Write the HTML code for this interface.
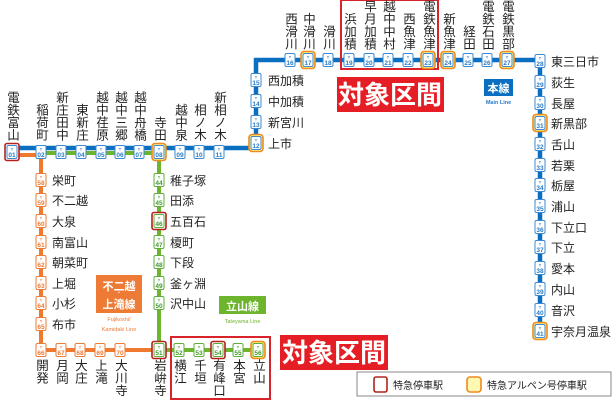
<!DOCTYPE html>
<html><head><meta charset="utf-8"><style>
html,body{margin:0;padding:0;background:#fff;}
svg{display:block;font-family:"Liberation Sans","Noto Sans CJK JP",sans-serif;}
.v{writing-mode:vertical-rl;font-size:12.5px;fill:#222;}
.h{font-size:12px;fill:#222;}
.t{font-size:4px;text-anchor:middle;font-weight:bold}
.n{font-size:6.5px;text-anchor:middle;font-weight:bold}
</style></head><body>
<svg width="614" height="400" viewBox="0 0 614 400">
<defs>
<g id="bb"><rect x="-5" y="-6.5" width="10" height="13" rx="1.5" fill="#fff" stroke="#3c8ad2" stroke-width="1"/></g>
<g id="ob"><rect x="-5" y="-6.5" width="10" height="13" rx="1.5" fill="#fff" stroke="#ee7b35" stroke-width="1"/></g>
<g id="gb"><rect x="-5" y="-6.5" width="10" height="13" rx="1.5" fill="#fff" stroke="#5fae3a" stroke-width="1"/></g>
<g id="rs"><rect x="-7" y="-8.5" width="14" height="17" rx="2" fill="#fff" stroke="#b3221c" stroke-width="1.6"/></g>
<g id="ys"><rect x="-7" y="-8.5" width="14" height="17" rx="3" fill="#fff48a" stroke="#ef8a1f" stroke-width="1.6"/></g>
</defs>
<!-- lines -->
<path d="M12 155 H41 V350 H159" stroke="#ef7a2f" stroke-width="4" fill="none"/>
<path d="M41 153 H159 V350 H258" stroke="#6cb52d" stroke-width="4" fill="none"/>
<path d="M12 148 H256 V60 H540 V331" stroke="#0a6fc0" stroke-width="4.5" fill="none"/>
<path d="M159 148 V152" stroke="#0a6fc0" stroke-width="0"/>

<!-- red boxes -->
<rect x="341" y="0" width="97" height="69" fill="none" stroke="#d9232a" stroke-width="2"/>
<rect x="171" y="337" width="99" height="62" fill="none" stroke="#d9232a" stroke-width="2"/>
<rect x="337" y="77" width="107" height="35" fill="#e51e25"/>
<text x="390" y="104" font-size="26" font-weight="bold" fill="#fff" text-anchor="middle">対象区間</text>
<rect x="280" y="335" width="108" height="35" fill="#e51e25"/>
<text x="334" y="362" font-size="26" font-weight="bold" fill="#fff" text-anchor="middle">対象区間</text>

<!-- line badges -->
<rect x="484" y="79" width="29" height="17" fill="#0a6fc0"/>
<text x="498.5" y="92" font-size="11" font-weight="bold" fill="#fff" text-anchor="middle">本線</text>
<text x="498.5" y="104" font-size="5.5" fill="#2a7cc6" text-anchor="middle" font-weight="bold">Main Line</text>
<rect x="96" y="275" width="46" height="38" fill="#ee7b35"/>
<text x="119" y="290" font-size="11" font-weight="bold" fill="#fff" text-anchor="middle">不二越</text>
<text x="119" y="295" font-size="6" fill="#fff" text-anchor="middle">・</text>
<text x="119" y="308" font-size="11" font-weight="bold" fill="#fff" text-anchor="middle">上滝線</text>
<text x="119" y="321" font-size="5.5" fill="#ee7b35" text-anchor="middle">Fujikoshi/</text>
<text x="119" y="331" font-size="5.5" fill="#ee7b35" text-anchor="middle">Kamidaki Line</text>
<rect x="219" y="296" width="47" height="18" fill="#6cb52d"/>
<text x="242.5" y="310" font-size="11" font-weight="bold" fill="#fff" text-anchor="middle">立山線</text>
<text x="242.5" y="323" font-size="5.5" fill="#6cb52d" text-anchor="middle">Tateyama Line</text>

<!-- legend -->
<rect x="357" y="372" width="254" height="24" fill="#fff" stroke="#888" stroke-width="1"/>
<rect x="374" y="377" width="13" height="15" rx="2" fill="#fff" stroke="#b3221c" stroke-width="1.6"/>
<text x="393" y="389" font-size="10" fill="#222">特急停車駅</text>
<rect x="467" y="377" width="14" height="15" rx="3" fill="#fff8b0" stroke="#ef8a1f" stroke-width="1.6"/>
<text x="487" y="389" font-size="10" fill="#222">特急アルペン号停車駅</text>

<!-- stations main horizontal -->
<g fill="#2a7cc6">
<g transform="translate(12,152)"><use href="#rs"/><use href="#bb"/><text class="t" y="-1.5">T</text><text class="n" y="5">01</text></g>
<g transform="translate(41,152)"><use href="#bb"/><text class="t" y="-1.5">T</text><text class="n" y="5">02</text></g>
<g transform="translate(61,152)"><use href="#bb"/><text class="t" y="-1.5">T</text><text class="n" y="5">03</text></g>
<g transform="translate(81,152)"><use href="#bb"/><text class="t" y="-1.5">T</text><text class="n" y="5">04</text></g>
<g transform="translate(101,152)"><use href="#bb"/><text class="t" y="-1.5">T</text><text class="n" y="5">05</text></g>
<g transform="translate(120,152)"><use href="#bb"/><text class="t" y="-1.5">T</text><text class="n" y="5">06</text></g>
<g transform="translate(139,152)"><use href="#bb"/><text class="t" y="-1.5">T</text><text class="n" y="5">07</text></g>
<g transform="translate(159,152)"><use href="#ys"/><use href="#bb"/><text class="t" y="-1.5">T</text><text class="n" y="5">08</text></g>
<g transform="translate(180,152)"><use href="#bb"/><text class="t" y="-1.5">T</text><text class="n" y="5">09</text></g>
<g transform="translate(199,152)"><use href="#bb"/><text class="t" y="-1.5">T</text><text class="n" y="5">10</text></g>
<g transform="translate(219,152)"><use href="#bb"/><text class="t" y="-1.5">T</text><text class="n" y="5">11</text></g>
<g transform="translate(256,143)"><use href="#ys"/><use href="#bb"/><text class="t" y="-1.5">T</text><text class="n" y="5">12</text></g>
<g transform="translate(256,122)"><use href="#bb"/><text class="t" y="-1.5">T</text><text class="n" y="5">13</text></g>
<g transform="translate(256,101)"><use href="#bb"/><text class="t" y="-1.5">T</text><text class="n" y="5">14</text></g>
<g transform="translate(256,80)"><use href="#bb"/><text class="t" y="-1.5">T</text><text class="n" y="5">15</text></g>
<g transform="translate(290,60)"><use href="#bb"/><text class="t" y="-1.5">T</text><text class="n" y="5">16</text></g>
<g transform="translate(308,60)"><use href="#ys"/><use href="#bb"/><text class="t" y="-1.5">T</text><text class="n" y="5">17</text></g>
<g transform="translate(328,60)"><use href="#bb"/><text class="t" y="-1.5">T</text><text class="n" y="5">18</text></g>
<g transform="translate(349,60)"><use href="#bb"/><text class="t" y="-1.5">T</text><text class="n" y="5">19</text></g>
<g transform="translate(369,60)"><use href="#bb"/><text class="t" y="-1.5">T</text><text class="n" y="5">20</text></g>
<g transform="translate(388,60)"><use href="#bb"/><text class="t" y="-1.5">T</text><text class="n" y="5">21</text></g>
<g transform="translate(408,60)"><use href="#bb"/><text class="t" y="-1.5">T</text><text class="n" y="5">22</text></g>
<g transform="translate(428,60)"><use href="#ys"/><use href="#bb"/><text class="t" y="-1.5">T</text><text class="n" y="5">23</text></g>
<g transform="translate(448,60)"><use href="#ys"/><use href="#bb"/><text class="t" y="-1.5">T</text><text class="n" y="5">24</text></g>
<g transform="translate(468,60)"><use href="#bb"/><text class="t" y="-1.5">T</text><text class="n" y="5">25</text></g>
<g transform="translate(487,60)"><use href="#bb"/><text class="t" y="-1.5">T</text><text class="n" y="5">26</text></g>
<g transform="translate(507,60)"><use href="#ys"/><use href="#bb"/><text class="t" y="-1.5">T</text><text class="n" y="5">27</text></g>
<g transform="translate(540,61)"><use href="#bb"/><text class="t" y="-1.5">T</text><text class="n" y="5">28</text></g>
<g transform="translate(540,82)"><use href="#bb"/><text class="t" y="-1.5">T</text><text class="n" y="5">29</text></g>
<g transform="translate(540,103)"><use href="#bb"/><text class="t" y="-1.5">T</text><text class="n" y="5">30</text></g>
<g transform="translate(540,123)"><use href="#ys"/><use href="#bb"/><text class="t" y="-1.5">T</text><text class="n" y="5">31</text></g>
<g transform="translate(540,144)"><use href="#bb"/><text class="t" y="-1.5">T</text><text class="n" y="5">32</text></g>
<g transform="translate(540,165)"><use href="#bb"/><text class="t" y="-1.5">T</text><text class="n" y="5">33</text></g>
<g transform="translate(540,185)"><use href="#bb"/><text class="t" y="-1.5">T</text><text class="n" y="5">34</text></g>
<g transform="translate(540,206)"><use href="#bb"/><text class="t" y="-1.5">T</text><text class="n" y="5">35</text></g>
<g transform="translate(540,227)"><use href="#bb"/><text class="t" y="-1.5">T</text><text class="n" y="5">36</text></g>
<g transform="translate(540,247)"><use href="#bb"/><text class="t" y="-1.5">T</text><text class="n" y="5">37</text></g>
<g transform="translate(540,268)"><use href="#bb"/><text class="t" y="-1.5">T</text><text class="n" y="5">38</text></g>
<g transform="translate(540,289)"><use href="#bb"/><text class="t" y="-1.5">T</text><text class="n" y="5">39</text></g>
<g transform="translate(540,310)"><use href="#bb"/><text class="t" y="-1.5">T</text><text class="n" y="5">40</text></g>
<g transform="translate(540,331)"><use href="#ys"/><use href="#bb"/><text class="t" y="-1.5">T</text><text class="n" y="5">41</text></g>
</g>
<!-- orange stations -->
<g fill="#ee7b35">
<g transform="translate(41,180)"><use href="#ob"/><text class="t" y="-1.5">T</text><text class="n" y="5">58</text></g>
<g transform="translate(41,200)"><use href="#ob"/><text class="t" y="-1.5">T</text><text class="n" y="5">59</text></g>
<g transform="translate(41,221)"><use href="#ob"/><text class="t" y="-1.5">T</text><text class="n" y="5">60</text></g>
<g transform="translate(41,242)"><use href="#ob"/><text class="t" y="-1.5">T</text><text class="n" y="5">61</text></g>
<g transform="translate(41,262)"><use href="#ob"/><text class="t" y="-1.5">T</text><text class="n" y="5">62</text></g>
<g transform="translate(41,283)"><use href="#ob"/><text class="t" y="-1.5">T</text><text class="n" y="5">63</text></g>
<g transform="translate(41,303)"><use href="#ob"/><text class="t" y="-1.5">T</text><text class="n" y="5">64</text></g>
<g transform="translate(41,324)"><use href="#ob"/><text class="t" y="-1.5">T</text><text class="n" y="5">65</text></g>
<g transform="translate(41,350)"><use href="#ob"/><text class="t" y="-1.5">T</text><text class="n" y="5">66</text></g>
<g transform="translate(61,350)"><use href="#ob"/><text class="t" y="-1.5">T</text><text class="n" y="5">67</text></g>
<g transform="translate(80,350)"><use href="#ob"/><text class="t" y="-1.5">T</text><text class="n" y="5">68</text></g>
<g transform="translate(100,350)"><use href="#ob"/><text class="t" y="-1.5">T</text><text class="n" y="5">69</text></g>
<g transform="translate(120,350)"><use href="#ob"/><text class="t" y="-1.5">T</text><text class="n" y="5">70</text></g>
</g>
<!-- green stations -->
<g fill="#3f9a2a">
<g transform="translate(159,180)"><use href="#gb"/><text class="t" y="-1.5">T</text><text class="n" y="5">44</text></g>
<g transform="translate(159,200)"><use href="#gb"/><text class="t" y="-1.5">T</text><text class="n" y="5">45</text></g>
<g transform="translate(159,221)"><use href="#rs"/><use href="#gb"/><text class="t" y="-1.5">T</text><text class="n" y="5">46</text></g>
<g transform="translate(159,242)"><use href="#gb"/><text class="t" y="-1.5">T</text><text class="n" y="5">47</text></g>
<g transform="translate(159,262)"><use href="#gb"/><text class="t" y="-1.5">T</text><text class="n" y="5">48</text></g>
<g transform="translate(159,283)"><use href="#gb"/><text class="t" y="-1.5">T</text><text class="n" y="5">49</text></g>
<g transform="translate(159,303)"><use href="#gb"/><text class="t" y="-1.5">T</text><text class="n" y="5">50</text></g>
<g transform="translate(159,350)"><use href="#rs"/><use href="#gb"/><text class="t" y="-1.5">T</text><text class="n" y="5">51</text></g>
<g transform="translate(179,350)"><use href="#gb"/><text class="t" y="-1.5">T</text><text class="n" y="5">52</text></g>
<g transform="translate(199,350)"><use href="#gb"/><text class="t" y="-1.5">T</text><text class="n" y="5">53</text></g>
<g transform="translate(218,350)"><use href="#rs"/><use href="#gb"/><text class="t" y="-1.5">T</text><text class="n" y="5">54</text></g>
<g transform="translate(238,350)"><use href="#gb"/><text class="t" y="-1.5">T</text><text class="n" y="5">55</text></g>
<g transform="translate(258,350)"><use href="#ys"/><use href="#gb"/><text class="t" y="-1.5">T</text><text class="n" y="5">56</text></g>
</g>

<!-- vertical labels left row (bottom-aligned) -->
<g class="v" text-anchor="end">
<text x="12" y="141">電鉄富山</text>
<text x="41" y="141">稲荷町</text>
<text x="61" y="141">新庄田中</text>
<text x="81" y="141">東新庄</text>
<text x="101" y="141">越中荏原</text>
<text x="120" y="141">越中三郷</text>
<text x="139" y="141">越中舟橋</text>
<text x="159" y="141">寺田</text>
<text x="180" y="141">越中泉</text>
<text x="199" y="141">相ノ木</text>
<text x="219" y="141">新相ノ木</text>
<text x="290" y="50">西滑川</text>
<text x="308" y="50">中滑川</text>
<text x="328" y="50">滑川</text>
<text x="349" y="50">浜加積</text>
<text x="369" y="50">早月加積</text>
<text x="388" y="50">越中中村</text>
<text x="408" y="50">西魚津</text>
<text x="428" y="50">電鉄魚津</text>
<text x="448" y="50">新魚津</text>
<text x="468" y="50">経田</text>
<text x="487" y="50">電鉄石田</text>
<text x="507" y="50">電鉄黒部</text>
</g>
<g class="v" text-anchor="start">
<text x="41" y="359">開発</text>
<text x="61" y="359">月岡</text>
<text x="80" y="359">大庄</text>
<text x="100" y="359">上滝</text>
<text x="120" y="359">大川寺</text>
<text x="159" y="359">岩峅寺</text>
<text x="179" y="359">横江</text>
<text x="199" y="359">千垣</text>
<text x="218" y="359">有峰口</text>
<text x="238" y="359">本宮</text>
<text x="258" y="359">立山</text>
</g>
<!-- horizontal labels -->
<g class="h">
<text x="268" y="148">上市</text>
<text x="268" y="127">新宮川</text>
<text x="268" y="106">中加積</text>
<text x="268" y="85">西加積</text>
<text x="551" y="66">東三日市</text>
<text x="551" y="87">荻生</text>
<text x="551" y="108">長屋</text>
<text x="551" y="128">新黒部</text>
<text x="551" y="149">舌山</text>
<text x="551" y="170">若栗</text>
<text x="551" y="190">栃屋</text>
<text x="551" y="211">浦山</text>
<text x="551" y="232">下立口</text>
<text x="551" y="252">下立</text>
<text x="551" y="273">愛本</text>
<text x="551" y="294">内山</text>
<text x="551" y="315">音沢</text>
<text x="551" y="336">宇奈月温泉</text>
<text x="52" y="185">栄町</text>
<text x="52" y="205">不二越</text>
<text x="52" y="226">大泉</text>
<text x="52" y="247">南富山</text>
<text x="52" y="267">朝菜町</text>
<text x="52" y="288">上堀</text>
<text x="52" y="308">小杉</text>
<text x="52" y="329">布市</text>
<text x="170" y="185">稚子塚</text>
<text x="170" y="205">田添</text>
<text x="170" y="226">五百石</text>
<text x="170" y="247">榎町</text>
<text x="170" y="267">下段</text>
<text x="170" y="288">釜ヶ淵</text>
<text x="170" y="308">沢中山</text>
</g>
</svg>
</body></html>
